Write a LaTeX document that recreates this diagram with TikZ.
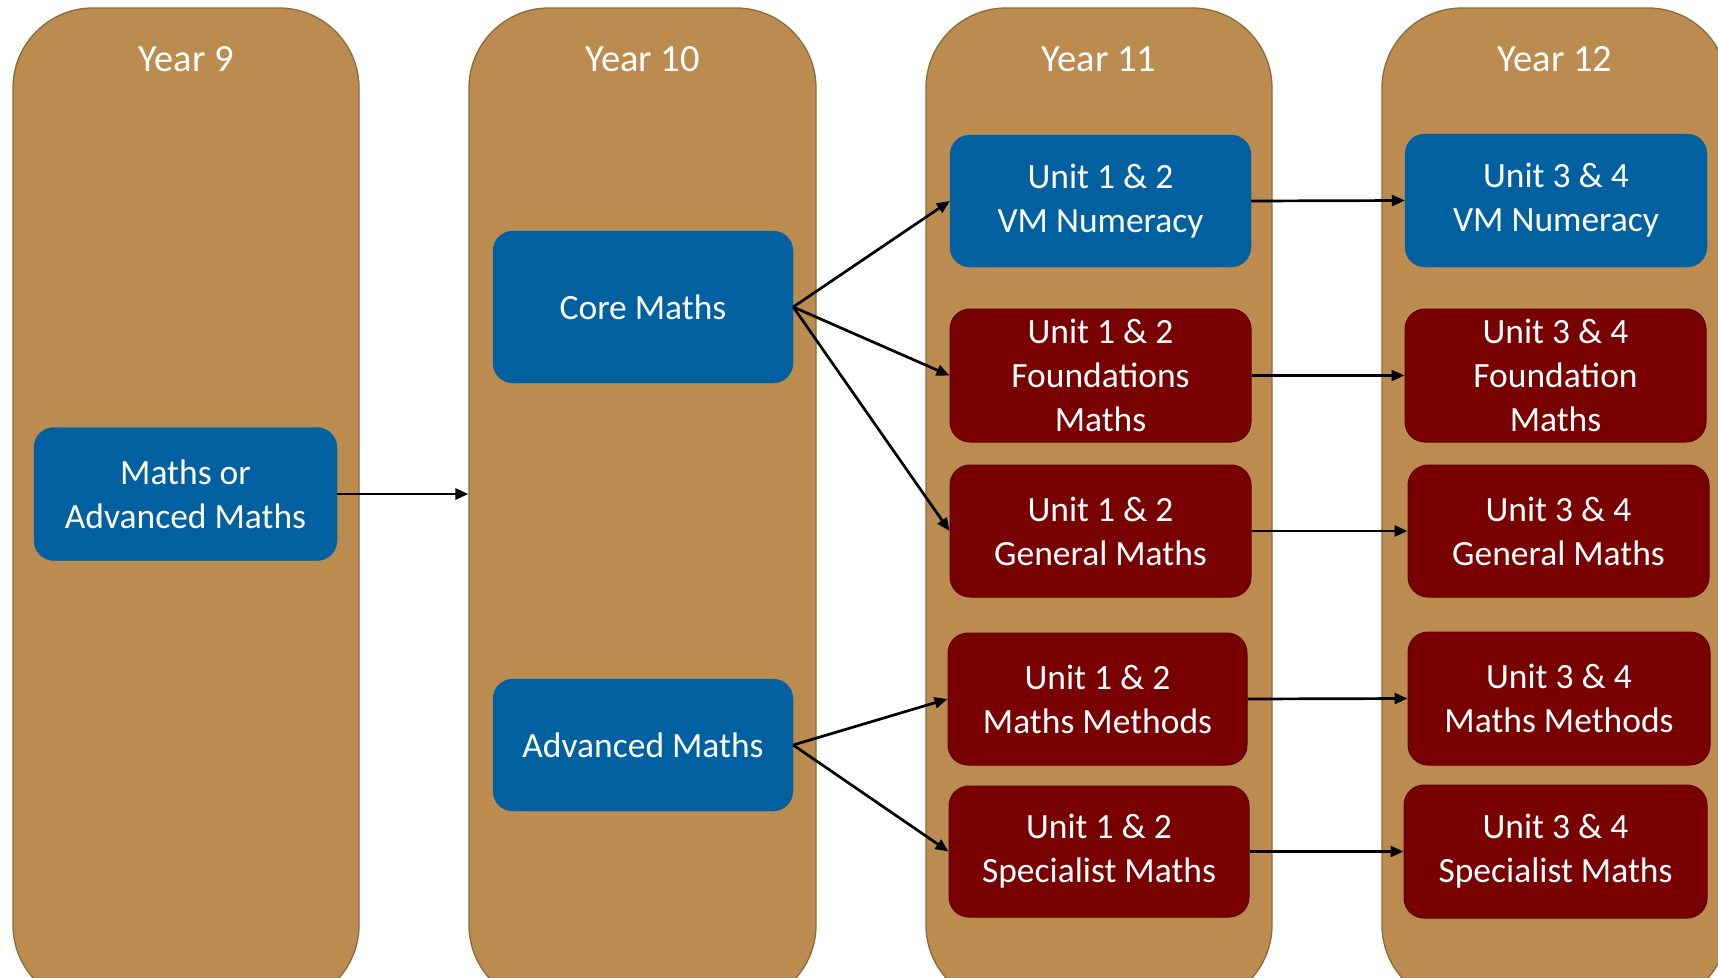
\documentclass[tikz,border=0pt]{standalone}
\usepackage{fontspec}
\setmainfont{Carlito}
\usetikzlibrary{arrows.meta}
\definecolor{colfill}{RGB}{188,139,79}
\definecolor{coledge}{RGB}{140,106,60}
\definecolor{bluebox}{RGB}{0,96,160}
\definecolor{redbox}{RGB}{120,0,0}
\definecolor{rededge}{RGB}{92,0,0}
\tikzset{
  column/.style={draw=coledge, line width=1.3pt, fill=colfill, rounded corners=80pt, inner sep=0pt},
  title/.style={text=white, font=\fontsize{38.5}{46}\selectfont},
  bbox/.style={fill=bluebox, draw=bluebox, rounded corners=20pt, text=white, align=center,
    font=\fontsize{35.5}{44}\selectfont, inner sep=0pt},
  rbox/.style={fill=redbox, draw=rededge, line width=1pt, rounded corners=20pt, text=white, align=center,
    font=\fontsize{35.5}{44}\selectfont, inner sep=0pt},
  link/.style={line width=2.7pt, -{Triangle[length=13pt,width=11pt]}}
}
\begin{document}
\begin{tikzpicture}[x=1pt,y=-1pt]
\clip (0,0) rectangle (1718,977);
\fill[white] (0,0) rectangle (1718,977);
% columns
\node[column, minimum width=346pt, minimum height=997pt] (col9) at (186,506.5) {};
\node[column, minimum width=347pt, minimum height=997pt] (col10) at (642.5,506.5) {};
\node[column, minimum width=346pt, minimum height=997pt] (col11) at (1099,506.5) {};
\node[column, minimum width=346pt, minimum height=997pt] (col12) at (1555,506.5) {};
\node[title] (t9) at (186,59) {Year 9};
\node[title] (t10) at (642.5,59) {Year 10};
\node[title] (t11) at (1099,59) {Year 11};
\node[title] (t12) at (1555,59) {Year 12};
% year 9
\node[bbox, minimum width=303pt, minimum height=133pt] (m9) at (185.5,494) {Maths or\\Advanced Maths};
% year 10
\node[bbox, minimum width=300pt, minimum height=152pt] (core) at (643,307) {Core Maths};
\node[bbox, minimum width=300pt, minimum height=132pt] (adv) at (643,745) {Advanced Maths};
% year 11
\node[bbox, minimum width=301pt, minimum height=132pt] (vm1) at (1100.5,201) {Unit 1 \& 2\\VM Numeracy};
\node[rbox, minimum width=301pt, minimum height=133pt] (fo1) at (1100.5,375.5) {Unit 1 \& 2\\Foundations\\Maths};
\node[rbox, minimum width=301pt, minimum height=132pt] (ge1) at (1100.5,531) {Unit 1 \& 2\\General Maths};
\node[rbox, minimum width=299pt, minimum height=132pt] (me1) at (1097.5,699) {Unit 1 \& 2\\Maths Methods};
\node[rbox, minimum width=300pt, minimum height=131pt] (sp1) at (1099,851.5) {Unit 1 \& 2\\Specialist Maths};
% year 12
\node[bbox, minimum width=302pt, minimum height=133pt] (vm2) at (1556,200.5) {Unit 3 \& 4\\VM Numeracy};
\node[rbox, minimum width=301pt, minimum height=133pt] (fo2) at (1555.5,375.5) {Unit 3 \& 4\\Foundation\\Maths};
\node[rbox, minimum width=301pt, minimum height=132pt] (ge2) at (1558.5,531) {Unit 3 \& 4\\General Maths};
\node[rbox, minimum width=302pt, minimum height=133pt] (me2) at (1559,698.5) {Unit 3 \& 4\\Maths Methods};
\node[rbox, minimum width=303pt, minimum height=133pt] (sp2) at (1555.5,851.5) {Unit 3 \& 4\\Specialist Maths};
% connectors
\draw[link] (m9.east) -- (m9.east -| col10.west);
\draw[link] (core.east) -- (vm1.west);
\draw[link] (core.east) -- (fo1.west);
\draw[link] (core.east) -- (ge1.west);
\draw[link] (adv.east) -- (me1.west);
\draw[link] (adv.east) -- (sp1.west);
\draw[link] (vm1.east) -- (vm2.west);
\draw[link] (fo1.east) -- (fo2.west);
\draw[link] (ge1.east) -- (ge2.west);
\draw[link] (me1.east) -- (me2.west);
\draw[link] (sp1.east) -- (sp2.west);
\end{tikzpicture}
\end{document}
